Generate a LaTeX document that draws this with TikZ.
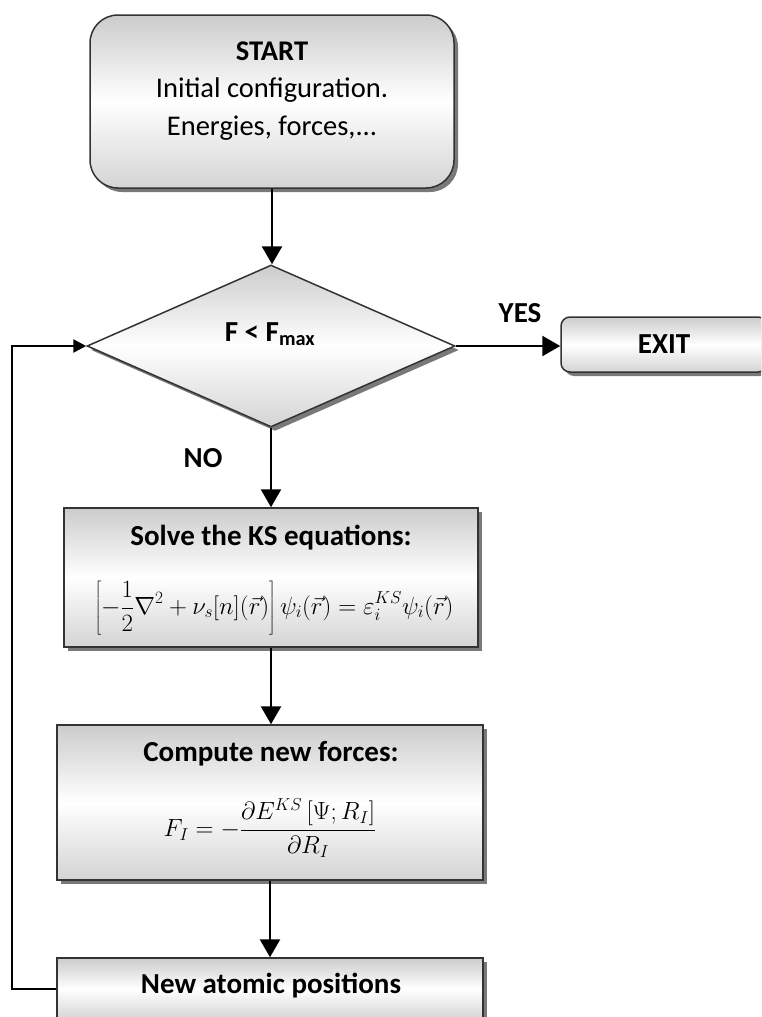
\documentclass[tikz,border=0pt]{standalone}
\usepackage{fontspec}
\setmainfont{Carlito}
\usetikzlibrary{arrows.meta,shapes.geometric,shadows,calc}

\begin{document}
\begin{tikzpicture}[x=1pt,y=-1pt,
  shaded/.style={draw=black!80, line width=1.5pt,
    top color=gray!40, bottom color=gray!34, middle color=white,
    drop shadow={shadow xshift=4pt, shadow yshift=-4pt, fill=black!70, opacity=0.75}},
  box/.style={shaded, rectangle, inner sep=0pt},
  txt/.style={font=\fontsize{28.5}{37.5}\selectfont, align=center, inner sep=0pt},
  bold/.style={txt, font=\fontsize{29}{37.5}\selectfont\bfseries},
  eqn/.style={inner sep=0pt, font=\fontsize{25}{30}\selectfont},
  flow/.style={line width=2.6pt, -{Triangle[width=20pt,length=18pt]}},
  back/.style={line width=2.4pt, -{Triangle[width=13pt,length=13pt]}}
]
\useasboundingbox (0,0) rectangle (761,1017);
\clip (0,0) rectangle (761,1017);

% start block
\node[shaded, rectangle, rounded corners=28pt, minimum width=364pt, minimum height=173pt] (start) at (272,101.5) {};
\node[txt] (starttext) at (272,91) {\textbf{START}\\Initial configuration.\\Energies, forces,...};

% convergence test
\node[shaded, diamond, minimum width=368pt, minimum height=162pt, inner sep=0pt] (dec) at (271,346) {};
\node[bold] (dectext) at (270,334) {F < F\textsubscript{max}};

% exit
\node[shaded, rectangle, rounded corners=9pt, minimum width=206pt, minimum height=55pt, bold] (exit) at (664,344.5) {EXIT};

% Kohn-Sham step
\node[box, minimum width=414pt, minimum height=139pt] (ks) at (271,577.5) {};
\node[bold] (kstitle) at (271,538) {Solve the KS equations:};
\node[eqn] (kseq) at (274,608) {$\displaystyle \left[-\frac{1}{2}\nabla^{2}+\nu_{s}[n](\vec{r})\right]\psi_{i}(\vec{r})=\varepsilon_{i}^{KS}\psi_{i}(\vec{r})$};

% forces
\node[box, minimum width=426pt, minimum height=155pt] (force) at (270,802.5) {};
\node[bold] (forcetitle) at (271,754) {Compute new forces:};
\node[eqn, font=\fontsize{23}{28}\selectfont] (forceeq) at (270,828) {$\displaystyle F_{I}=-\frac{\partial E^{KS}\left[\Psi;R_{I}\right]}{\partial R_{I}}$};

% new positions
\node[box, minimum width=426pt, minimum height=62pt] (newpos) at (270,989) {};
\node[bold] (newpostext) at (271,986) {New atomic positions};

% labels
\node[bold] (yes) at (520,313) {YES};
\node[bold] (no) at (203,458) {NO};

% connectors
\draw[flow] (start.south) -- (start.south |- dec.north);
\draw[flow] (dec.east) -- (dec.east -| exit.west);
\draw[flow] (dec.south) -- (dec.south |- ks.north);
\draw[flow] (ks.south) -- (ks.south |- force.north);
\draw[flow] (force.south) -- (force.south |- newpos.north);
\draw[back] (newpos.west) -- ++(-44,0) |- (dec.west);
\end{tikzpicture}
\end{document}
